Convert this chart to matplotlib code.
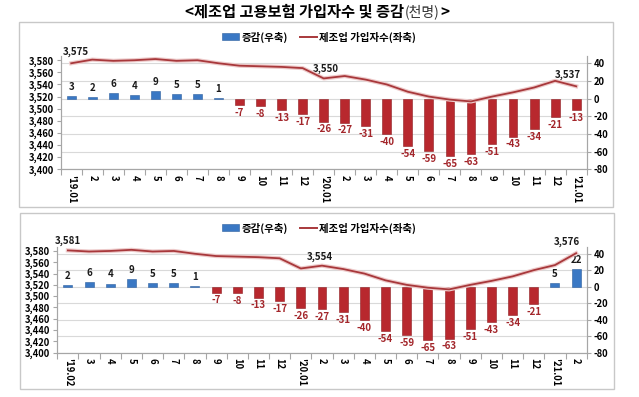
import matplotlib
matplotlib.use("Agg")
import matplotlib.pyplot as plt
import matplotlib.patheffects as pe
from matplotlib.patches import Rectangle, Patch
from matplotlib.lines import Line2D
import numpy as np

plt.rcParams['font.family'] = ['Noto Sans CJK KR', 'DejaVu Sans']

# ---------------- data ----------------
title_main = "<제조업 고용보험 가입자수 및 증감"
title_unit = "(천명)"
legend_bar = "증감(우축)"
legend_line = "제조업 가입자수(좌축)"

cats_top = ["'19.01", "2", "3", "4", "5", "6", "7", "8", "9", "10", "11", "12",
            "'20.01", "2", "3", "4", "5", "6", "7", "8", "9", "10", "11", "12", "'21.01"]
chg_top = [3, 2, 6, 4, 9, 5, 5, 1, -7, -8, -13, -17,
           -26, -27, -31, -40, -54, -59, -65, -63, -51, -43, -34, -21, -13]
emp_top = [3575, 3581, 3579, 3580, 3582, 3579, 3580, 3575, 3571, 3570, 3569, 3567,
           3550, 3554, 3548, 3540, 3528, 3520, 3515, 3512, 3520, 3527, 3535, 3546, 3537]

cats_bot = ["'19.02", "3", "4", "5", "6", "7", "8", "9", "10", "11", "12",
            "'20.01", "2", "3", "4", "5", "6", "7", "8", "9", "10", "11", "12", "'21.01", "2"]
chg_bot = [2, 6, 4, 9, 5, 5, 1, -7, -8, -13, -17,
           -26, -27, -31, -40, -54, -59, -65, -63, -51, -43, -34, -21, 5, 22]
emp_bot = [3581, 3579, 3580, 3582, 3579, 3580, 3575, 3571, 3570, 3569, 3567,
           3549, 3554, 3548, 3540, 3528, 3520, 3515, 3512, 3520, 3527, 3535, 3546, 3555, 3576]

# line value labels: (index, dx px, dy px)
lab_top = [(0, 5, 11), (12, 2, 10), (24, -8, 11)]
lab_bot = [(0, 0, 10), (12, -2, 9), (24, -9, 11)]

left_ticks = list(range(3400, 3581, 20))
right_ticks = list(range(-80, 41, 20))

# ---------------- style ----------------
W, H = 639, 397
fig = plt.figure(figsize=(W / 100, H / 100), dpi=100)

BLUE = '#3A78C4'
BLUE_E = '#2C5E9E'
RED = '#B8282E'
RED_E = '#8E1E22'
RED_TXT = '#A3262B'
LINE = '#A8383B'
GRID = '#D9D9D9'
AX = '#A6A6A6'


def fx(px):
    return px / W


def fy(py):
    return 1 - py / H


def panel(box, rect, cats, chg, emp, labs, legend_y):
    # frame box
    x0, y0, x1, y1 = box
    fig.patches.append(Rectangle((fx(x0), fy(y1)), fx(x1 - x0), (y1 - y0) / H,
                                 transform=fig.transFigure, facecolor='white',
                                 edgecolor='#C8C8C8', linewidth=1.0, zorder=-5))
    l, t, r, b = rect
    axb = fig.add_axes([fx(l), fy(b), fx(r - l), (b - t) / H])
    axb.set_facecolor('none')
    axl = axb.twinx()
    axl.set_facecolor('none')

    n = len(cats)
    x = np.arange(n)
    cols = [BLUE if v >= 0 else RED for v in chg]
    ecs = [BLUE_E if v >= 0 else RED_E for v in chg]
    axb.bar(x, chg, width=0.42, color=cols, edgecolor=ecs, linewidth=0.4, zorder=3)
    axb.set_xlim(-0.5, n - 0.5)
    axb.set_ylim(-80, 48.5)
    axb.yaxis.tick_right()
    axb.yaxis.set_label_position('right')
    axb.set_yticks(right_ticks)
    axb.set_yticklabels([str(v) for v in right_ticks], fontsize=6.8, fontweight='bold')
    axb.tick_params(axis='y', direction='out', length=3, color=AX, pad=2,
                    right=True, left=False, labelleft=False, labelright=True)
    axb.grid(axis='y', color=GRID, linewidth=0.8, zorder=0)
    axb.set_axisbelow(True)
    # x axis
    axb.set_xticks(np.arange(-0.5, n, 1.0))
    axb.set_xticklabels([])
    axb.tick_params(axis='x', which='major', direction='out', length=4, color=AX)
    axb.set_xticks(x, minor=True)
    axb.set_xticklabels(cats, minor=True, rotation=-90, fontsize=6.8, fontweight='bold',
                        va='top', ha='center')
    axb.tick_params(axis='x', which='minor', length=0, pad=4)
    axb.spines['top'].set_visible(False)
    for s in ['left', 'right', 'bottom']:
        axb.spines[s].set_color(AX)
        axb.spines[s].set_linewidth(0.8)
    # bar labels
    for i, v in enumerate(chg):
        if v >= 0:
            axb.annotate(str(v), (i, v), xytext=(0, 3), textcoords='offset points',
                         ha='center', va='bottom', fontsize=7, fontweight='bold', color='#1a1a1a')
        else:
            axb.annotate(str(v), (i, v), xytext=(0, -2), textcoords='offset points',
                         ha='center', va='top', fontsize=7, fontweight='bold', color=RED_TXT)

    axl.plot(x, emp, color=LINE, linewidth=1.3, zorder=5,
             path_effects=[pe.Stroke(linewidth=3.0, foreground='#EDCACA'), pe.Normal()])
    axl.set_ylim(3400, 3587)
    axl.yaxis.tick_left()
    axl.yaxis.set_label_position('left')
    axl.set_yticks(left_ticks)
    axl.set_yticklabels([f"{v:,}" for v in left_ticks], fontsize=6.8, fontweight='bold')
    axl.tick_params(axis='y', direction='out', length=3, color=AX, pad=2,
                    left=True, right=False, labelleft=True, labelright=False)
    axl.spines['top'].set_visible(False)
    for s in ['left', 'right', 'bottom']:
        axl.spines[s].set_color(AX)
        axl.spines[s].set_linewidth(0.8)
    for i, dx, dy in labs:
        axl.annotate(f"{emp[i]:,}", (i, emp[i]), xytext=(dx * 0.72, dy * 0.72),
                     textcoords='offset points', ha='center', va='center',
                     fontsize=7, fontweight='bold', color='#1a1a1a')

    handles = [Patch(facecolor=BLUE, edgecolor=BLUE_E, linewidth=0.4),
               Line2D([0], [0], color=LINE, linewidth=1.4)]
    fig.legend(handles, [legend_bar, legend_line], loc='center',
               bbox_to_anchor=(fx(319), fy(legend_y)), ncol=2, frameon=False,
               handlelength=1.6, handleheight=0.6, columnspacing=1.2,
               handletextpad=0.2, prop={'weight': 'bold', 'size': 7.5})


panel((19, 22, 613, 207), (60.7, 56, 586.7, 169.3), cats_top, chg_top, emp_top, lab_top, 37)
panel((20, 213, 614, 389), (57.3, 247, 586.7, 352.7), cats_bot, chg_bot, emp_bot, lab_bot, 228)

t1 = fig.text(fx(185), fy(12), title_main, ha='left', va='center', fontsize=11, fontweight='bold')
t2 = fig.text(0, 0, title_unit, fontsize=10, fontweight='normal', color='#333333')
fig.canvas.draw()
bb = t1.get_window_extent()
t2.set_position((bb.x1 / W + 0.001, fy(12)))
t2.set_va('center')
fig.canvas.draw()
bb2 = t2.get_window_extent()
fig.text(bb2.x1 / W + 0.001, fy(12), ">", ha='left', va='center', fontsize=11, fontweight='bold')

fig.savefig("out.png", dpi=100)
